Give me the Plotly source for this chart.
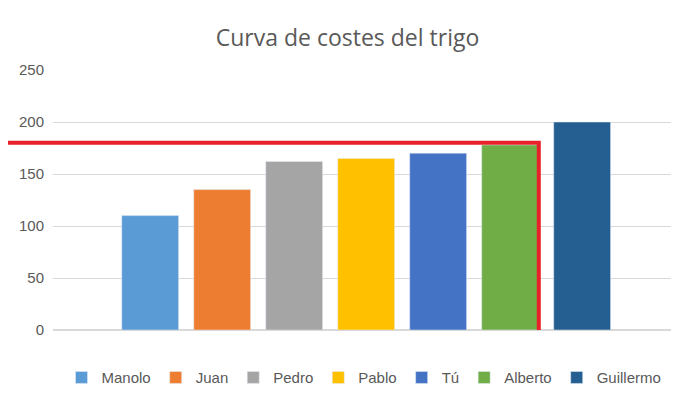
import plotly.graph_objects as go

names = ["Manolo", "Juan", "Pedro", "Pablo", "Tú", "Alberto", "Guillermo"]
values = [110, 135, 162, 165, 170, 178, 200]
colors = ["#5B9BD5", "#ED7D31", "#A5A5A5", "#FFC000", "#4472C4", "#70AD47", "#255E91"]
threshold = 180

fig = go.Figure()
for n, v, c in zip(names, values, colors):
    fig.add_trace(go.Bar(x=[n], y=[v], name=n, marker_color=c, width=0.79))

fig.add_shape(type="path", xref="paper", yref="y",
              path=f"M -0.075,{threshold} L 0.781,{threshold} L 0.781,0",
              line=dict(color="#E8202A", width=4))

fig.update_layout(
    width=679, height=403,
    margin=dict(l=45, r=12, t=62, b=81, autoexpand=False),
    paper_bgcolor="white", plot_bgcolor="white",
    font=dict(family="Liberation Sans, Arial, sans-serif", color="#595959", size=14),
    title=dict(text="Curva de costes del trigo", x=0.5, xanchor="center", y=0.945,
               font=dict(family="Open Sans, sans-serif", size=23, color="#595959")),
    barmode="overlay",
    showlegend=True,
    legend=dict(orientation="h", x=0.5, xanchor="center", y=-0.12, yanchor="top",
                font=dict(size=15, color="#595959"), itemwidth=30, traceorder="normal"),
    xaxis=dict(showticklabels=False, range=[-1.35, 7.29], showgrid=False, zeroline=False,
               automargin=False, categoryorder="array", categoryarray=names),
    yaxis=dict(range=[0, 250], dtick=50, gridcolor="#D9D9D9", zeroline=True, automargin=False,
               zerolinecolor="#D9D9D9", tickfont=dict(size=15, color="#595959"),
               ticklabelstandoff=8),
)
fig.write_html("out.html")
